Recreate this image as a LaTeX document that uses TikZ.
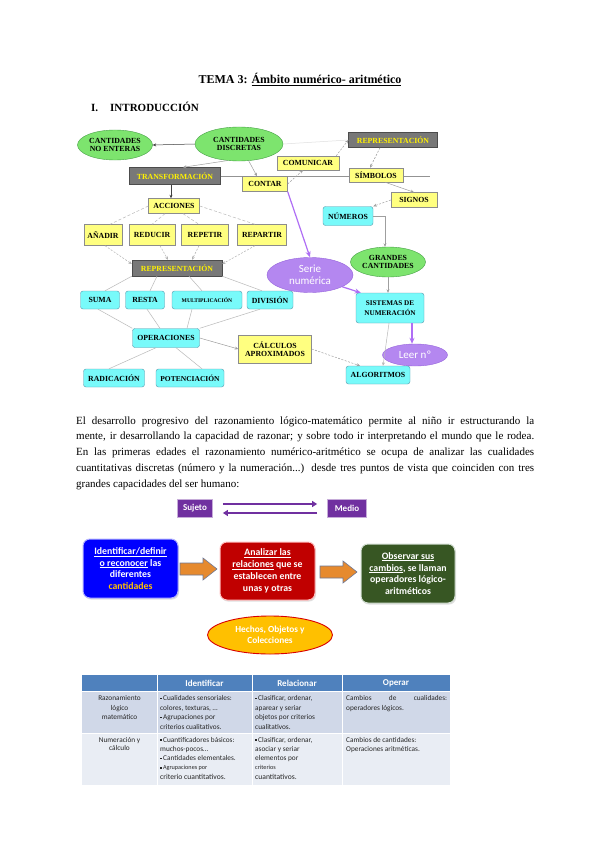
\documentclass[tikz,border=0pt]{standalone}
\usepackage{fontspec}
\setmainfont{Liberation Serif}
\newfontfamily\carl{Carlito}
\usetikzlibrary{shapes.geometric,arrows.meta,shadows}
\definecolor{yfill}{RGB}{255,255,128}
\definecolor{cfill}{RGB}{120,250,250}
\definecolor{cbord}{RGB}{90,150,170}
\definecolor{gfill}{RGB}{120,120,120}
\definecolor{gefill}{RGB}{125,228,110}
\definecolor{gebord}{RGB}{70,160,70}
\definecolor{pfill}{RGB}{180,135,240}
\definecolor{pbord}{RGB}{150,100,220}
\definecolor{varr}{RGB}{175,110,245}
\definecolor{purp}{RGB}{112,48,160}
\definecolor{bblue}{RGB}{0,0,255}
\definecolor{bred}{RGB}{192,0,0}
\definecolor{bgreen}{RGB}{55,86,35}
\definecolor{orar}{RGB}{230,138,46}
\definecolor{orbord}{RGB}{110,120,150}
\definecolor{gold}{RGB}{255,192,0}
\definecolor{thead}{RGB}{79,129,189}
\definecolor{trow1}{RGB}{208,216,232}
\definecolor{trow2}{RGB}{233,237,244}
\newcommand\tsq{\raisebox{0.45ex}{\rule{1.8pt}{1.3pt}}\,}
\begin{document}
\begin{tikzpicture}[x=1pt,y=-1pt,
  mapf/.style={font=\fontsize{7.8}{8.4}\selectfont\bfseries},
  ybox/.style={mapf, draw=black!45, fill=yfill, inner sep=0.5pt, align=center},
  cbox/.style={mapf, draw=cbord, fill=cfill, rounded corners=2.5pt, inner sep=0.5pt, align=center},
  gbox/.style={mapf, draw=black!70, fill=gfill, text=yellow, inner sep=0.5pt},
  gell/.style={mapf, ellipse, draw=gebord, fill=gefill, inner xsep=-2pt, inner ysep=0pt, align=center},
  pell/.style={ellipse, draw=pbord, fill=pfill, text=white, inner sep=0pt, align=center, font=\carl\fontsize{11}{12}\selectfont},
  darr/.style={draw=black!75, line width=0.5pt, -{Stealth[length=3.5pt,width=3pt]}},
  garr/.style={draw=gray!75, line width=0.5pt, -{Stealth[length=3.5pt,width=3pt]}},
  gdarr/.style={garr, dash pattern=on 2pt off 1.5pt},
  glin/.style={draw=gray!55, line width=0.5pt},
  gdlin/.style={glin, dash pattern=on 3pt off 2pt},
  parr/.style={draw=varr, line width=1.2pt, -{Stealth[length=6pt,width=5pt]}},
  ptext/.style={font=\fontsize{11}{13}\selectfont, inner sep=0pt, anchor=base west},
  bigbox/.style={rounded corners=7pt, line width=1pt, text=white, align=center, inner sep=1pt,
    font=\carl\bfseries\fontsize{9.8}{11.8}\selectfont,
    drop shadow={opacity=0.25, shadow xshift=1pt, shadow yshift=-1.5pt}},
  orarrow/.style={fill=orar, draw=orbord, line width=0.6pt, line join=miter},
  pbox/.style={fill=purp, draw=purp!40, line width=0.8pt, text=white, inner sep=1pt,
    font=\carl\bfseries\fontsize{9}{10}\selectfont},
  sjarr/.style={draw=purp, line width=1.6pt, -{Triangle[length=5pt,width=6pt]}},
  tcell/.style={inner sep=0pt, text=black!85, font=\carl\fontsize{7.3}{9.6}\selectfont},
  thd/.style={inner sep=0pt, text=white, font=\carl\bfseries\fontsize{9}{10}\selectfont}
]
\fill[white] (0,0) rectangle (600,848);
\path[use as bounding box] (0,0) rectangle (600,848);

% ---------- title ----------
\node[font=\bfseries\fontsize{12}{14}\selectfont, inner sep=0pt, anchor=base] (title) at (300,84) {TEMA 3: \underline{Ámbito numérico- aritmético}};
\node[font=\bfseries\fontsize{11}{13}\selectfont, inner sep=0pt, anchor=base west] (secn) at (91,112) {I.};
\node[font=\bfseries\fontsize{11}{13}\selectfont, inner sep=0pt, anchor=base west] (sect) at (110,112) {INTRODUCCIÓN};

% ---------- concept map ----------
\node[gbox, minimum width=91, minimum height=17] (tr) at (175,176) {TRANSFORMACIÓN};
\coordinate (hlend) at (430,176);
\draw[draw=gray!85, line width=1pt] (tr.east) -- (hlend);

\node[gell, minimum width=75, minimum height=30] (ne) at (115,145) {CANTIDADES\\NO ENTERAS};
\node[gell, minimum width=88, minimum height=34] (cd) at (239,144) {CANTIDADES\\DISCRETAS};
\node[gbox, minimum width=89, minimum height=15] (rep1) at (393,140) {REPRESENTACIÓN};
\node[ybox, minimum width=62, minimum height=14] (com) at (308,163) {COMUNICAR};
\node[ybox, minimum width=45, minimum height=15] (contar) at (265,184) {CONTAR};
\node[ybox, minimum width=54, minimum height=14] (sim) at (376,175) {SÍMBOLOS};
\node[ybox, minimum width=46, minimum height=15] (sig) at (414,200) {SIGNOS};
\node[cbox, minimum width=50, minimum height=19] (num) at (348,216) {NÚMEROS};
\node[gell, minimum width=75, minimum height=30] (gc) at (388,262) {GRANDES\\CANTIDADES};
\node[pell, minimum width=86, minimum height=35] (serie) at (310,275) {Serie\\numérica};
\node[cbox, minimum width=68, minimum height=30, font=\fontsize{7.2}{9.5}\selectfont\bfseries] (sis) at (390,308) {SISTEMAS DE\\NUMERACIÓN};
\node[pell, minimum width=65, minimum height=22] (leer) at (415,355) {Leer nº};
\node[cbox, minimum width=64, minimum height=18] (alg) at (378,375) {ALGORITMOS};
\node[ybox, minimum width=73, minimum height=28] (calc) at (275,349) {CÁLCULOS\\APROXIMADOS};

\node[ybox, minimum width=51, minimum height=15] (acc) at (174,206) {ACCIONES};
\node[ybox, minimum width=38, minimum height=21] (an) at (103,235) {AÑADIR};
\node[ybox, minimum width=46, minimum height=21] (red) at (152,235) {REDUCIR};
\node[ybox, minimum width=47, minimum height=21] (repe) at (205,235) {REPETIR};
\node[ybox, minimum width=49, minimum height=21] (repa) at (262,235) {REPARTIR};
\node[gbox, minimum width=90, minimum height=16] (rep2) at (177,268) {REPRESENTACIÓN};
\node[cbox, minimum width=39, minimum height=18] (suma) at (100,300) {SUMA};
\node[cbox, minimum width=39, minimum height=18] (resta) at (145,300) {RESTA};
\node[cbox, minimum width=70, minimum height=18, font=\fontsize{5.6}{6}\selectfont\bfseries] (mult) at (207,300) {MULTIPLICACIÓN};
\node[cbox, minimum width=46, minimum height=18] (div) at (270,300) {DIVISIÓN};
\node[cbox, minimum width=67, minimum height=19] (op) at (166,338) {OPERACIONES};
\node[cbox, minimum width=61, minimum height=18] (rad) at (114,378) {RADICACIÓN};
\node[cbox, minimum width=68, minimum height=18, font=\fontsize{7.5}{8}\selectfont\bfseries] (pot) at (190,378) {POTENCIACIÓN};

% connectors (top)
\draw[darr] (cd.west) -- (ne.east);
\draw[garr] (cd.235) -- ([xshift=8]tr.north);
\draw[garr] (cd.300) -- ([xshift=-8]contar.north);
\draw[draw=gray!25, line width=0.5pt] (cd.east) -- (rep1.west);
\draw[gdarr] (contar.east) -- ([xshift=-5]com.south);
\draw[gdarr] ([xshift=-3]com.north east) -- (rep1.west);
\draw[gdarr] ([xshift=-13]rep1.south) -- ([xshift=-6]sim.north);
\draw[garr] ([xshift=9]sim.south) -- (sig.north);
\draw[gdarr] (sig.west) -- (num.north east);
\draw[garr] (num.east) -| ([xshift=-3]gc.north);
\draw[garr] (gc.south) -- (sis.north -| gc.south);
\draw[parr] (contar.south east) -- (serie.north);
\draw[parr] (serie.340) -- ([xshift=5]sis.north west);
\draw[parr] ([xshift=22]sis.south) -- ([xshift=-3]leer.north);
\draw[garr, draw=gray!55] ([xshift=-1]sis.south) -- ([xshift=5]alg.north);
\draw[gdarr] (calc.east) -- ([xshift=-18]alg.north);
\draw[garr] (op.east) -- (calc.west);

% connectors (left tree)
\draw[darr] ([xshift=-4]tr.south) -- ([xshift=-3]acc.north);
\draw[gdlin] (acc.west) -- ([xshift=7]an.north);
\draw[gdlin] ([xshift=-9]acc.south) -- (red.north);
\draw[gdlin] ([xshift=9]acc.south) -- ([xshift=-6]repe.north);
\draw[gdlin] (acc.east) -- ([xshift=-7]repa.north);
\draw[gdarr, draw=gray!60] ([xshift=2]an.south) -- ([yshift=4]rep2.west);
\draw[gdarr, draw=gray!60] ([xshift=8]red.south) -- ([xshift=-9]rep2.north);
\draw[gdarr, draw=gray!60] ([xshift=-6]repe.south) -- ([xshift=15]rep2.north);
\draw[gdarr, draw=gray!60] ([xshift=-7]repa.south) -- ([yshift=4]rep2.east);
\draw[glin] (rep2.south west) -- ([xshift=5]suma.north);
\draw[glin] ([xshift=-20]rep2.south) -- ([xshift=5]resta.north);
\draw[glin] ([xshift=12]rep2.south) -- ([xshift=-5]mult.north);
\draw[glin] (rep2.south east) -- ([xshift=-8]div.north);
\draw[glin] ([xshift=-2]suma.south) -- (op.north west);
\draw[glin] ([xshift=2]resta.south) -- ([xshift=-6]op.north);
\draw[glin] ([xshift=-15]mult.south) -- ([xshift=21]op.north);
\draw[glin] ([xshift=-10]div.south) -- (op.north east);
\draw[glin] ([xshift=-10]op.south) -- ([xshift=-5]rad.north);
\draw[glin] ([xshift=10]op.south) -- ([xshift=12]pot.north);

% ---------- paragraph ----------
\node[ptext] (p1) at (76,424) {\makebox[458pt][s]{El desarrollo progresivo del razonamiento lógico-matemático permite al niño ir estructurando la}};
\node[ptext] (p2) at (76,439) {\makebox[458pt][s]{mente, ir desarrollando la capacidad de razonar; y sobre todo ir interpretando el mundo que le rodea.}};
\node[ptext] (p3) at (76,455) {\makebox[458pt][s]{En las primeras edades el razonamiento numérico-aritmético se ocupa de analizar las cualidades}};
\node[ptext] (p4) at (76,471) {\makebox[458pt][s]{cuantitativas discretas (número y la numeración...) desde tres puntos de vista que coinciden con tres}};
\node[ptext] (p5) at (76,487) {grandes capacidades del ser humano:};

% ---------- Sujeto / Medio ----------
\node[pbox, minimum width=35, minimum height=18] (suj) at (195,508) {Sujeto};
\node[pbox, minimum width=39, minimum height=18] (med) at (347,508) {Medio};
\draw[sjarr] ([xshift=10,yshift=4]suj.east) -- ([xshift=-10,yshift=4]med.west);
\draw[sjarr] ([xshift=-10,yshift=-5]med.west) -- ([xshift=10,yshift=-5]suj.east);

% ---------- three boxes ----------
\node[bigbox, fill=bblue, draw=blue!30, minimum width=95, minimum height=59] (bx1) at (130.5,568.5)
  {\underline{Identificar/definir}\\\underline{o reconocer} las\\diferentes\\\textcolor{gold}{cantidades}};
\node[bigbox, fill=bred, draw=red!25, minimum width=95, minimum height=58] (bx2) at (267.5,571)
  {\underline{Analizar las}\\\underline{relaciones} que se\\establecen entre\\unas y otras};
\node[bigbox, fill=bgreen, draw=green!15!gray!30, minimum width=94, minimum height=59] (bx3) at (408,573.5)
  {\underline{Observar sus}\\\underline{cambios}, se llaman\\operadores lógico-\\aritméticos};
\draw[orarrow] (180,563) -- (203,563) -- (203,558) -- (217,569) -- (203,580) -- (203,575) -- (180,575) -- cycle;
\draw[orarrow] (320,566) -- (343,566) -- (343,561) -- (357,572) -- (343,583) -- (343,578) -- (320,578) -- cycle;
\node[ellipse, fill=gold, draw=red!85!black, line width=0.9pt, minimum width=125, minimum height=38, inner sep=0pt,
  text=white, align=center, font=\carl\bfseries\fontsize{9.3}{11.5}\selectfont] (hechos) at (270,635) {Hechos, Objetos y\\Colecciones};

% ---------- table ----------
\fill[thead] (82,675) rectangle (450,691);
\fill[trow1] (82,691) rectangle (450,733);
\fill[trow2] (82,733) rectangle (450,785);
\draw[white, line width=1pt] (157,675) -- (157,785);
\draw[white, line width=1pt] (252,675) -- (252,785);
\draw[white, line width=1pt] (342,675) -- (342,785);
\draw[white, line width=1pt] (82,691) -- (450,691);
\draw[white, line width=1pt] (82,733) -- (450,733);
\node[thd] (h2) at (204.5,683) {Identificar};
\node[thd] (h3) at (297,683) {Relacionar};
\node[thd] (h4) at (396,683) {Operar};

\node[tcell, align=center, anchor=north] (r1c1) at (119.5,695.5) {Razonamiento\\lógico\\matemático};
\node[tcell, align=left, anchor=north west] (r1c2) at (160,695.5) {\tsq Cualidades sensoriales:\\colores, texturas, …\\\tsq Agrupaciones por\\criterios cualitativos.};
\node[tcell, align=left, anchor=north west] (r1c3) at (255,695.5) {\tsq Clasificar, ordenar,\\aparear y seriar\\objetos por criterios\\cualitativos.};
\node[tcell, align=left, anchor=north west] (r1c4) at (346,695.5) {\makebox[101pt][s]{Cambios de cualidades:}\\operadores lógicos.};

\node[tcell, align=center, anchor=north, font=\carl\fontsize{7.3}{8.6}\selectfont] (r2c1) at (119.5,737) {Numeración y\\cálculo};
\node[tcell, align=left, anchor=north west, font=\carl\fontsize{7.3}{9.2}\selectfont] (r2c2) at (160,737) {\tsq Cuantificadores básicos:\\muchos-pocos…\\\tsq Cantidades elementales.\\{\fontsize{6.2}{9.2}\selectfont\tsq Agrupaciones por}\\{\fontsize{7.6}{9.2}\selectfont criterio cuantitativos.}};
\node[tcell, align=left, anchor=north west, font=\carl\fontsize{7.3}{9.2}\selectfont] (r2c3) at (255,737) {\tsq Clasificar, ordenar,\\asociar y seriar\\elementos por\\{\fontsize{6.2}{9.2}\selectfont criterios}\\{\fontsize{7.6}{9.2}\selectfont cuantitativos.}};
\node[tcell, align=left, anchor=north west, font=\carl\fontsize{7.3}{9.2}\selectfont] (r2c4) at (346,737) {Cambios de cantidades:\\Operaciones aritméticas.};
\end{tikzpicture}
\end{document}
